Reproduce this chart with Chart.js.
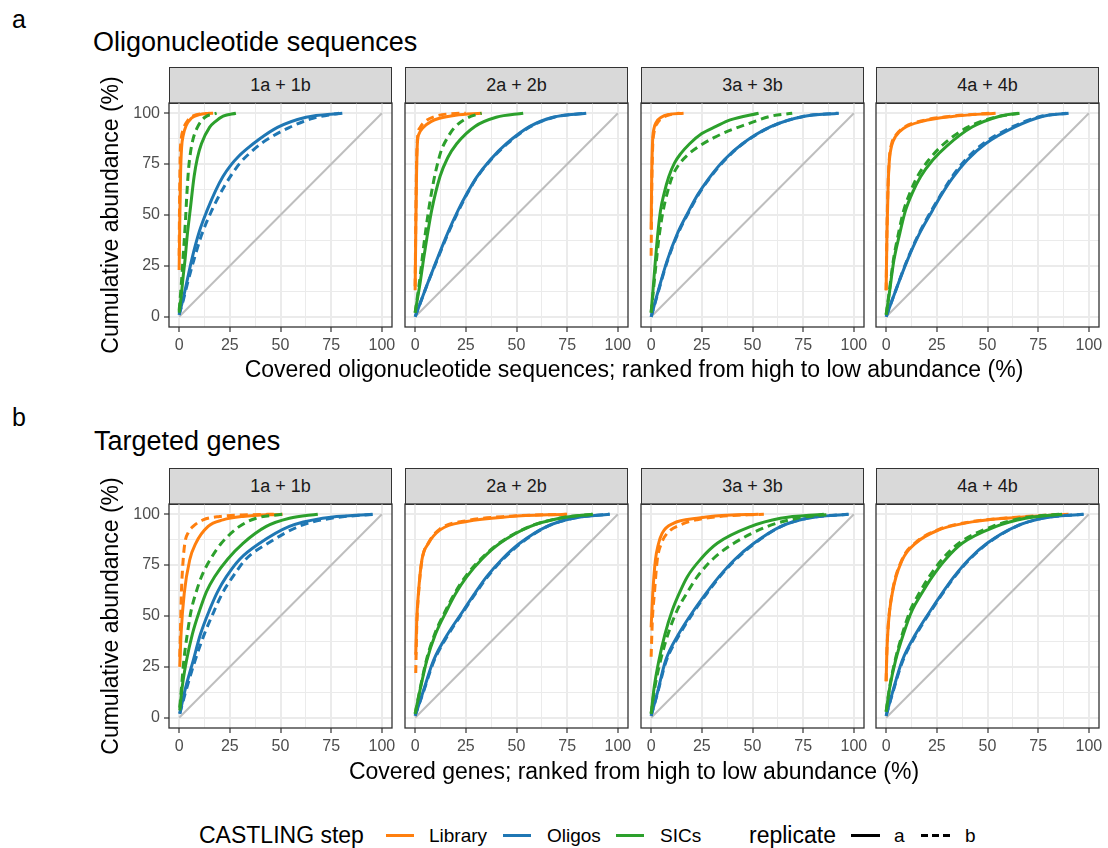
<!DOCTYPE html>
<html>
<head>
<meta charset="utf-8">
<script src="https://cdn.jsdelivr.net/npm/chart.js@4"></script>
<style>
body { margin: 0; background: #fff; font-family: "Liberation Sans", Arial, Helvetica, sans-serif; }
#fig { position: relative; width: 1108px; height: 848px; overflow: hidden; }
.t { position: absolute; white-space: nowrap; line-height: 1; color: #000; }
.c { transform: translate(-50%, -50%); }
.strip { position: absolute; box-sizing: border-box; background: #d9d9d9; border: 1.3px solid #333;
         display: flex; align-items: center; justify-content: center; font-size: 18px; color: #1a1a1a; }
canvas { position: absolute; }
.key { position: absolute; height: 3px; }
</style>
</head>
<body>
<div id="fig"></div>
<script>
// points are [covered %, cumulative abundance %]
const facets = ['1a + 1b', '2a + 2b', '3a + 3b', '4a + 4b'];
const steps = ['Library', 'Oligos', 'SICs'];
const stepColors = ['#ff7f0e', '#1f77b4', '#2ca02c'];
const majorTicks = [0, 25, 50, 75, 100];
const minorTicks = [12.5, 37.5, 62.5, 87.5];
const diagonal = [[0, 0], [100, 100]];

// --- a: oligonucleotide sequences ---
const seq1LibA = [[0,23],[0.3,45],[0.7,70],[1.2,83],[2,89],[3.5,94],[6,97.5],[10,99.3],[15,100]];
const seq1LibB = [[0,30],[0.2,55],[0.5,78],[1,87],[2,92],[4,96],[7,98.7],[12,99.7],[18,100]];
const seq1OliA = [[0,1],[2,9],[4,18],[6.2,28],[10,42],[13.9,52.5],[18,62],[21.7,69],[25.5,74.5],[29.5,79],[34,83],[38.5,86.5],[48.5,93],[62.6,98],[80.5,100]];
const seq1OliB = [[0,1],[2,8],[4,16],[7,27],[11,40],[16,52],[20,60],[25,68.5],[30,75.5],[35.5,81],[41,85.5],[54,92.8],[66,97.5],[79,100]];
const seq1SicA = [[0,2],[1,10],[2,20],[2.9,28],[4,40],[5.4,52],[7.4,69],[9,78],[11,85],[15,93],[18,96],[21.7,98.5],[28,100]];
const seq1SicB = [[0,3],[1,15],[2,30],[3,45],[3.8,60],[4.6,72],[5.5,80],[6.8,87],[9,93],[12.7,98],[18.5,100]];

const seq2LibA = [[0,13],[0.3,40],[0.7,70],[1.1,85],[2,90],[4,93],[8,96],[12,97.5],[20,99],[32.8,100]];
const seq2LibB = [[0,15],[0.3,45],[0.7,75],[1.2,88],[2.5,93],[5,96],[10,98.5],[17,99.7],[25,100]];
const seq2OliA = [[0,0],[3,8],[6,16],[10.7,28],[16,41],[21.3,52.5],[25.8,61],[30.3,68.5],[37,77],[45,85],[56.6,93.5],[68,98],[84.4,100]];
const seq2OliB = [[0,0],[3,8],[6,16],[10.9,28],[16.3,41],[21.6,52.5],[26,61],[30.5,68.5],[37.3,77],[45.5,85],[57,93.5],[68.5,98],[84,100]];
const seq2SicA = [[0,2],[1,8],[2.5,17],[4.1,28],[6,40],[8.2,52.5],[12.3,69],[16,78],[20.5,85],[29.5,93.5],[40,98],[53.3,100]];
const seq2SicB = [[0,2],[1,9],[2.5,20],[4,33],[6.6,52],[9,66],[11,75],[13,82],[16,88],[19,92.5],[25.4,97.5],[32.8,100]];

const seq3LibA = [[0,43],[0.3,70],[0.7,86],[1.3,92],[2.5,95.5],[5,98],[9,99.4],[16,100]];
const seq3LibB = [[0,30],[0.3,62],[0.7,82],[1.5,91],[3,95],[6,98],[10,99.5],[14,100]];
const seq3OliA = [[0,0],[3,11],[7.9,27.6],[13,41],[18.6,52],[23,60],[28.5,68],[36,77],[45,85],[59,93.4],[75,98.4],[92.6,100]];
const seq3OliB = [[0,0],[3,10.5],[8.1,27.6],[13.3,41],[18.9,52],[23.3,60],[28.8,68],[36.4,77],[45.3,85],[59.3,93.4],[75,98.4],[92,100]];
const seq3SicA = [[0,2],[1,14],[2.1,27.6],[3.2,40],[4.6,52],[6.5,61],[8.7,68.8],[11.5,75.5],[14.5,80],[19,85],[25,90],[32,93.5],[39,96.7],[53,100]];
const seq3SicB = [[0,2],[1,12],[2.6,27.6],[4,40],[5.9,52],[8,61],[10.4,68.8],[13.5,74.5],[18,79.5],[24,84],[31,88],[40,92],[47,94.5],[59,98.5],[69.6,100]];

const seq4LibA = [[0,13],[0.4,40],[1,65],[1.6,77],[2.7,84],[4.6,88.5],[8.7,92.6],[17.8,96],[32.6,98.4],[54,100]];
const seq4LibB = [[0,13],[0.4,42],[1,66],[1.6,78],[2.7,85],[4.6,89],[8.7,93],[17.8,96.3],[32.6,98.6],[52,100]];
const seq4OliA = [[0,0],[4,11],[10.4,27.6],[16,40],[22.7,52],[27,59.5],[32.6,68],[40,77],[49,85],[63.8,93.4],[77,98.4],[90,100]];
const seq4OliB = [[0,0],[4,11],[10.4,28],[16,40.5],[22.5,52.5],[27,60],[32.3,68.5],[39.5,77.5],[48.5,85.5],[63,93.6],[76,98.4],[89,100]];
const seq4SicA = [[0,1],[1.5,11],[3.8,27.6],[6.5,40],[9.5,52],[13,61],[17,68.8],[23,77],[30,84],[42.4,93.2],[55.6,98.4],[65.8,100]];
const seq4SicB = [[0,1],[1.5,12],[3.6,28],[6.1,41],[8.6,52],[11.8,61],[15.4,68.8],[21,77],[28,84.5],[40,93],[53,97.8],[65,100]];

// --- b: targeted genes ---
const gen1LibA = [[0.3,25],[1,42],[2.5,61],[5.2,77.5],[8.2,85.7],[14.3,94],[21.6,97.2],[31.5,98.9],[51,100]];
const gen1LibB = [[0.3,30],[0.7,45],[1.1,61],[1.8,75],[2.8,85.7],[4.5,91],[6.9,94],[11.8,97.2],[20,98.9],[35,99.7],[48,100]];
const gen1OliA = [[0.3,2],[3,14],[6.9,28],[10.5,41],[15,53],[19,62],[23.3,69.3],[30,78],[39.7,85.7],[54.4,94],[70.8,98],[95.4,100]];
const gen1OliB = [[0.3,2],[3,12],[7.5,27],[12,40],[17.5,53],[21.5,61.5],[26.5,69.3],[33,78],[43.8,85.7],[59,94],[75,98],[97,100]];
const gen1SicA = [[0.3,3.6],[1.5,15],[3.6,28],[6.5,41],[10.2,53],[13.5,62],[17.5,69.3],[24,78],[31.5,85.7],[43,94],[54.4,98],[68.4,100]];
const gen1SicB = [[0.3,5],[1,13],[2.3,28],[4,41],[6,53],[8.5,62],[11,69.3],[15.5,78],[20.8,85.7],[29.8,94],[38,98],[51,100]];

const gen2LibA = [[0.3,31],[0.8,48],[1.6,61],[3.3,77.4],[6.6,85.7],[12.3,92.3],[25.4,96.4],[46.7,98.8],[74.6,100]];
const gen2LibB = [[0.3,22],[0.8,45],[1.6,60],[3.3,77],[6.6,86],[12.3,92.8],[25.4,96.8],[46.7,99],[75,100]];
const gen2OliA = [[0,1],[4,13],[9,28],[16,41],[23.8,52.7],[29,60.5],[35.2,69.2],[43,78],[51.6,85.7],[64.8,93.9],[77.9,98],[95.9,100]];
const gen2OliB = [[0,1],[4,12.5],[9.2,27.7],[16.3,40.8],[24,52.5],[29.3,60.3],[35.5,69],[43.3,77.8],[52,85.6],[65,93.9],[78,98],[96,100]];
const gen2SicA = [[0,2],[2.5,14],[5.7,28],[10,41],[15.6,52.7],[20,61],[25.4,69.2],[33,78],[41.8,85.7],[56.6,93.9],[71.3,98],[87.7,100]];
const gen2SicB = [[0,2],[2.5,14.5],[5.6,28.5],[9.8,41.5],[15.3,53.2],[19.7,61.5],[25,69.6],[32.6,78.2],[41.5,85.8],[56.3,93.9],[71,98],[87.5,100]];

const gen3LibA = [[0,44.5],[0.8,61],[2.1,77.4],[3.5,85],[5.4,90.6],[11.2,95.6],[22.7,98],[35,99.3],[53,100]];
const gen3LibB = [[0,30],[0.6,48],[1.6,61],[3,77.4],[5,85.5],[7.9,90.6],[14.5,94.8],[22.7,97.3],[32.6,98.8],[55.6,100]];
const gen3OliA = [[0,1],[3,12],[7.1,28],[13.5,41],[21,52.7],[27,61],[33.4,69.2],[41.5,78],[50.7,85.7],[63.8,93.9],[77,98],[97.5,100]];
const gen3OliB = [[0,1],[3,11.5],[7.3,27.5],[13.8,40.5],[21.3,52.4],[27.3,60.8],[33.6,69],[41.8,77.8],[51,85.6],[64,93.9],[77,98],[97,100]];
const gen3SicA = [[0,2],[1.5,15],[3.8,28],[6.8,41],[10.4,52.7],[13.8,61],[17.8,69.2],[24.5,78],[32.6,85.7],[49,93.9],[63.8,98],[85.2,100]];
const gen3SicB = [[0,2],[1.5,13],[4.6,28],[8.3,41],[12.8,52.7],[17.5,61],[22.7,69.2],[30.5,78],[40.8,85.7],[57.2,93.9],[72,98],[88.5,100]];

const gen4LibA = [[0,18],[0.3,30],[1,44.5],[3,61],[7.9,77.4],[14.5,85.7],[26,92.3],[39,95.6],[59,98],[90,100]];
const gen4LibB = [[0,18],[0.3,31],[1,45],[3,61.5],[7.9,77.8],[14.5,86],[26,92.5],[39,95.8],[59,98.1],[88,100]];
const gen4OliA = [[0,1],[3,12],[7.9,28],[14.5,41],[21.9,52.7],[27.5,61],[33.4,69.2],[41,78],[49.8,85.7],[63.8,93.9],[77,98],[97.5,100]];
const gen4OliB = [[0,1],[3,11.5],[8.1,27.7],[14.7,40.7],[22.1,52.5],[27.7,60.8],[33.6,69],[41.2,77.8],[50,85.6],[64,93.9],[77,98],[97,100]];
const gen4SicA = [[0,3],[1.8,15],[4.6,28],[8.5,41],[12.8,52.7],[17.5,61],[22.7,69.2],[29.5,78],[37.5,85.7],[54,93.9],[68.8,98],[86.8,100]];
const gen4SicB = [[0,3],[1.8,15.5],[4.5,28.5],[8.1,41.5],[12,53],[16.5,61.5],[21.5,69.7],[28.2,78.5],[36.2,86],[52.5,94],[67.5,98.1],[86,100]];

// each panel: Library a/b, Oligos a/b, SICs a/b
const seqPanels = [
  [seq1LibA, seq1LibB, seq1OliA, seq1OliB, seq1SicA, seq1SicB],
  [seq2LibA, seq2LibB, seq2OliA, seq2OliB, seq2SicA, seq2SicB],
  [seq3LibA, seq3LibB, seq3OliA, seq3OliB, seq3SicA, seq3SicB],
  [seq4LibA, seq4LibB, seq4OliA, seq4OliB, seq4SicA, seq4SicB]
];
const genPanels = [
  [gen1LibA, gen1LibB, gen1OliA, gen1OliB, gen1SicA, gen1SicB],
  [gen2LibA, gen2LibB, gen2OliA, gen2OliB, gen2SicA, gen2SicB],
  [gen3LibA, gen3LibB, gen3OliA, gen3OliB, gen3SicA, gen3SicB],
  [gen4LibA, gen4LibB, gen4OliA, gen4OliB, gen4SicA, gen4SicB]
];

// layout (page pixels)
const colLeft = [169, 405, 641, 876];
const rowTop = [103, 504];
const plotW = 223, plotH = 224, stripH = 36;
const YW = 62, XH = 30, PADR = 18, PADT = 4;

Chart.defaults.font.family = '"Liberation Sans", Arial, Helvetica, sans-serif';
const fig = document.getElementById('fig');

function addText(str, x, y, size, centered, extra) {
  const d = document.createElement('div');
  d.className = 't' + (centered ? ' c' : '');
  d.textContent = str;
  d.style.left = x + 'px';
  d.style.top = y + 'px';
  d.style.fontSize = size + 'px';
  if (extra) Object.assign(d.style, extra);
  fig.appendChild(d);
  return d;
}

const panelBorder = {
  id: 'panelBorder',
  afterDraw(chart) {
    const a = chart.chartArea, ctx = chart.ctx;
    ctx.save();
    ctx.strokeStyle = '#333333';
    ctx.lineWidth = 1.3;
    ctx.strokeRect(a.left, a.top, a.right - a.left, a.bottom - a.top);
    ctx.restore();
  }
};

const isMajor = v => majorTicks.includes(v);

function axis(isX, showLabels) {
  return {
    type: 'linear', min: -5, max: 105,
    afterBuildTicks: sc => {
      sc.ticks = majorTicks.concat(minorTicks).sort((a, b) => a - b).map(v => ({value: v}));
    },
    afterFit: sc => {
      if (isX) { sc.height = XH; sc.paddingLeft = 0; sc.paddingRight = 0; }
      else { sc.width = YW; sc.paddingTop = 0; sc.paddingBottom = 0; }
    },
    border: {display: false},
    grid: {
      color: '#ebebeb',
      lineWidth: c => (c.tick && isMajor(c.tick.value)) ? 2 : 1,
      tickColor: c => (showLabels && c.tick && isMajor(c.tick.value)) ? '#333333' : 'rgba(0,0,0,0)',
      tickLength: 5,
      tickWidth: 1.2
    },
    ticks: {
      autoSkip: false, maxRotation: 0, padding: 4,
      color: '#4d4d4d', font: {size: 16},
      callback: v => (showLabels && isMajor(v)) ? String(v) : ''
    }
  };
}

function makePanel(row, col, curves) {
  const strip = document.createElement('div');
  strip.className = 'strip';
  strip.style.left = colLeft[col] + 'px';
  strip.style.top = (rowTop[row] - stripH) + 'px';
  strip.style.width = plotW + 'px';
  strip.style.height = (stripH + 1) + 'px';
  strip.textContent = facets[col];
  fig.appendChild(strip);

  const cv = document.createElement('canvas');
  cv.width = YW + plotW + PADR;
  cv.height = PADT + plotH + XH;
  cv.style.left = (colLeft[col] - YW) + 'px';
  cv.style.top = (rowTop[row] - PADT) + 'px';
  fig.appendChild(cv);

  // SICs b on top ... Library a at the bottom, diagonal under everything
  const datasets = [];
  for (let s = 2; s >= 0; s--) {
    for (let r = 1; r >= 0; r--) {
      datasets.push({
        data: curves[s * 2 + r].map(p => ({x: p[0], y: p[1]})),
        showLine: true,
        borderColor: stepColors[s],
        borderWidth: 3,
        borderDash: r ? [8, 5] : [],
        cubicInterpolationMode: 'monotone'
      });
    }
  }
  datasets.push({
    data: diagonal.map(p => ({x: p[0], y: p[1]})),
    showLine: true, borderColor: '#bebebe', borderWidth: 2
  });

  new Chart(cv, {
    type: 'scatter',
    data: {datasets},
    options: {
      responsive: false,
      animation: false,
      events: [],
      elements: {point: {radius: 0}, line: {fill: false, borderCapStyle: 'butt'}},
      layout: {padding: {left: 0, right: PADR, top: PADT, bottom: 0}},
      plugins: {legend: {display: false}, tooltip: {enabled: false}},
      scales: {x: axis(true, true), y: axis(false, col === 0)}
    },
    plugins: [panelBorder]
  });
}

seqPanels.forEach((p, i) => makePanel(0, i, p));
genPanels.forEach((p, i) => makePanel(1, i, p));

// titles and axis titles
addText('a', 12, 7, 25);
addText('Oligonucleotide sequences', 93, 29, 27);
addText('b', 12, 405, 25);
addText('Targeted genes', 94, 428, 27);

const midX = (colLeft[0] + colLeft[3] + plotW) / 2;
addText('Covered oligonucleotide sequences; ranked from high to low abundance (%)', midX, 369, 23, true);
addText('Covered genes; ranked from high to low abundance (%)', midX, 771, 23, true);
rowTop.forEach(t => {
  addText('Cumulative abundance (%)', 110, t + plotH / 2, 23, true,
          {transform: 'translate(-50%, -50%) rotate(-90deg)'});
});

// legend
const legY = 835;
addText('CASTLING step', 199, legY, 23, false, {transform: 'translateY(-50%)'});
const stepKeyX = [386, 503, 616];
const stepLabelX = [429, 547, 660];
steps.forEach((s, i) => {
  const k = document.createElement('div');
  k.className = 'key';
  k.style.left = stepKeyX[i] + 'px';
  k.style.top = (legY - 1.5) + 'px';
  k.style.width = '28px';
  k.style.background = stepColors[i];
  fig.appendChild(k);
  addText(s, stepLabelX[i], legY, 19, false, {transform: 'translateY(-50%)'});
});
addText('replicate', 749, legY, 23, false, {transform: 'translateY(-50%)'});
const repKeys = [['a', 851, 894, '#000'], ['b', 921, 965, 'repeating-linear-gradient(to right, #000 0 7px, transparent 7px 11px)']];
repKeys.forEach(([lab, kx, tx, bg]) => {
  const k = document.createElement('div');
  k.className = 'key';
  k.style.left = kx + 'px';
  k.style.top = (legY - 1.5) + 'px';
  k.style.width = '29px';
  k.style.background = bg;
  fig.appendChild(k);
  addText(lab, tx, legY, 19, false, {transform: 'translateY(-50%)'});
});
</script>
</body>
</html>
